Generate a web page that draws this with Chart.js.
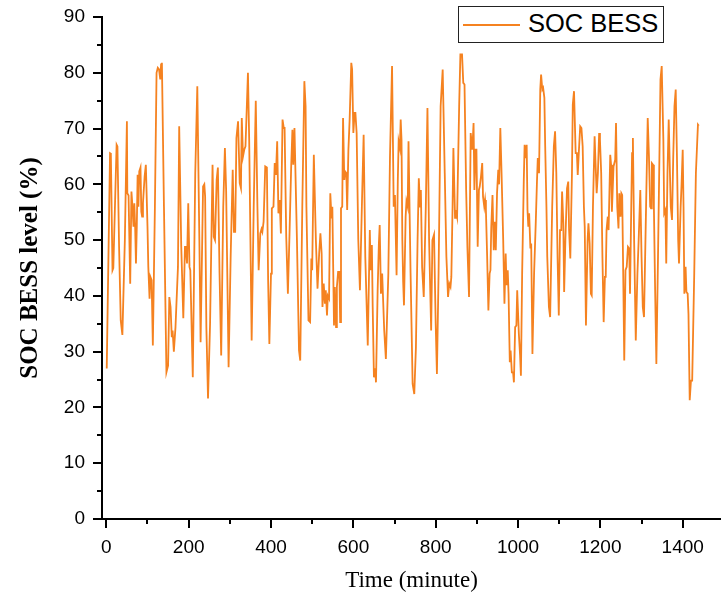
<!DOCTYPE html>
<html>
<head>
<meta charset="utf-8">
<script src="https://cdn.jsdelivr.net/npm/chart.js@4.4.0/dist/chart.umd.min.js"></script>
<style>
  body { margin: 0; background: #fff; }
  #wrap { position: relative; width: 721px; height: 602px; }
  #legend { position: absolute; left: 458px; top: 6px; width: 204px; height: 35px;
            border: 1.5px solid #222; background: #fff; }
  #legend .swatch { position: absolute; left: 4px; top: 17px; width: 57px; height: 2px; background: rgb(245,130,32); }
  #legend .label { position: absolute; left: 69px; top: 4px; font: 25.5px "Liberation Sans", Arial, sans-serif;
                   line-height: 25.5px; color: #000; white-space: nowrap; }
</style>
</head>
<body>
<div id="wrap">
  <canvas id="socChart" width="721" height="602"></canvas>
  <div id="legend"><div class="swatch"></div><div class="label">SOC BESS</div></div>
</div>
<script>
// time (minute) and SOC BESS level (%)
let minutes = [
  1, 9, 11, 15, 17, 23, 25, 27, 31, 35, 39, 45, 50, 51, 54, 58, 61, 63, 66, 68,
  70, 72, 74, 76, 78, 80, 83, 85, 87, 89, 93, 96, 100, 102, 105, 107, 110, 113, 118, 122,
  125, 128, 131, 133, 135, 140, 146, 150, 153, 156, 159, 161, 164, 168, 174, 177, 182, 187, 191, 193,
  196, 199, 202, 204, 210, 216, 221, 226, 229, 235, 238, 240, 243, 247, 252, 258, 261, 264, 268, 271,
  275, 279, 284, 288, 291, 297, 302, 307, 310, 313, 316, 320, 324, 327, 329, 332, 335, 338, 344, 347,
  350, 353, 358, 363, 367, 370, 374, 377, 379, 382, 386, 390, 393, 396, 400, 402, 406, 409, 412, 415,
  418, 421, 424, 428, 431, 433, 437, 441, 445, 449, 452, 454, 457, 463, 468, 471, 476, 481, 484, 486,
  491, 495, 498, 500, 504, 509, 513, 517, 520, 523, 525, 528, 531, 533, 536, 538, 541, 544, 547, 549,
  553, 555, 558, 560, 563, 566, 568, 570, 573, 575, 578, 580, 583, 585, 588, 591, 595, 597, 600, 603,
  605, 608, 612, 616, 621, 625, 629, 635, 640, 642, 645, 647, 650, 653, 655, 659, 662, 664, 667, 670,
  675, 679, 685, 689, 694, 698, 701, 705, 708, 710, 713, 715, 717, 719, 721, 723, 727, 729, 732, 734,
  739, 744, 748, 752, 756, 759, 762, 764, 767, 771, 776, 780, 784, 789, 792, 796, 800, 803, 807, 812,
  817, 822, 826, 830, 833, 836, 838, 841, 843, 847, 849, 852, 857, 860, 864, 867, 870, 874, 877, 881,
  885, 889, 892, 894, 897, 899, 902, 905, 907, 910, 913, 915, 918, 920, 922, 925, 928, 931, 933, 935,
  938, 941, 943, 946, 949, 952, 954, 957, 960, 964, 967, 970, 972, 975, 977, 980, 982, 985, 988, 990,
  993, 996, 998, 1002, 1005, 1007, 1010, 1014, 1016, 1018, 1021, 1023, 1025, 1027, 1030, 1032, 1035, 1039, 1043, 1046,
  1048, 1051, 1054, 1056, 1059, 1061, 1064, 1066, 1069, 1071, 1075, 1078, 1083, 1087, 1090, 1093, 1096, 1099, 1102, 1105,
  1107, 1110, 1112, 1115, 1119, 1122, 1124, 1127, 1131, 1133, 1136, 1140, 1143, 1145, 1148, 1151, 1154, 1157, 1160, 1162,
  1165, 1169, 1171, 1174, 1177, 1179, 1182, 1186, 1188, 1191, 1194, 1197, 1199, 1202, 1205, 1208, 1211, 1213, 1215, 1218,
  1220, 1224, 1226, 1228, 1232, 1236, 1238, 1241, 1244, 1246, 1249, 1251, 1253, 1256, 1258, 1261, 1264, 1267, 1270, 1272,
  1275, 1277, 1279, 1282, 1286, 1290, 1293, 1297, 1300, 1303, 1306, 1311, 1315, 1318, 1321, 1323, 1325, 1328, 1330, 1333,
  1336, 1340, 1344, 1346, 1349, 1353, 1355, 1358, 1360, 1363, 1366, 1369, 1371, 1374, 1377, 1380, 1383, 1386, 1389, 1391,
  1395, 1397, 1400, 1402, 1404, 1407, 1409, 1412, 1414, 1417, 1420, 1423, 1428, 1432, 1437, 1439
];
let socLevel = [
  27, 65.6, 65.5, 44.6, 45, 61.7, 67.1, 66.8, 48.8, 35.6, 33, 50, 71.3, 58.4, 58, 42.2, 58.7, 56.6, 52.4, 56.6,
  52.4, 45.8, 52.4, 61.7, 56, 62.3, 63, 55.1, 54.2, 56.6, 61.4, 63.5, 52.4, 45.2, 39.5, 43.4, 42.8, 31.1, 56, 80,
  80.9, 80.6, 78.8, 81.5, 81.8, 56, 26.3, 27.5, 39.8, 38, 32.6, 33.8, 30, 34.4, 45.2, 70.4, 48.8, 36, 48.8, 48.8,
  45.8, 56.6, 45.2, 44.6, 25.4, 62, 77.6, 50, 31.7, 59.6, 60, 57.8, 34.4, 21.6, 35, 63.5, 50.6, 50, 60.8, 63,
  44, 29.3, 56, 66.5, 59, 27.2, 47, 62.6, 51.5, 51.5, 68.3, 71.3, 60.2, 59.3, 71.9, 65, 66.2, 66.8, 80, 68,
  50, 32, 56, 75, 56, 44.6, 51.2, 52, 51.5, 53.3, 63.2, 63, 42.8, 31.4, 44, 55.7, 56, 63.8, 61.7, 67.7,
  54.8, 57.2, 51.2, 71.6, 70.1, 70.1, 50.6, 40.4, 51.2, 63.2, 69.8, 63.5, 70.1, 50, 30.2, 28.4, 56, 78.5, 74, 56,
  35.6, 35.3, 46.7, 44.6, 65.3, 50, 41.3, 47.6, 51.2, 47.6, 38, 42.2, 38.6, 41, 36.5, 40, 39.5, 58.4, 53.9, 56,
  34.7, 41.6, 34.4, 41.6, 44.3, 44.3, 35.3, 55.7, 56, 71.9, 60.8, 62.3, 62, 55.4, 66.2, 71.6, 81.8, 80.6, 69.2, 72.8,
  72.8, 69.2, 50, 41, 57, 68.9, 47, 31.1, 51.8, 44.6, 49.1, 38, 25.4, 27, 24.5, 41, 49.4, 52.7, 40.4, 44,
  33.8, 28.7, 44, 65, 81.2, 56, 58.1, 43.7, 60.8, 67.7, 66.5, 71.6, 68, 50, 42.5, 38.3, 54.2, 57, 56, 67.7,
  44, 24.2, 22.4, 30.8, 50, 61.1, 56, 59, 45.2, 39.8, 56, 73.7, 50, 33.8, 50, 51, 35, 26, 44, 74,
  80.6, 62, 47, 39.8, 42.2, 41.6, 43.4, 56, 66.5, 54, 55.4, 54.2, 74, 83.3, 83.3, 78.2, 77.9, 59, 48.8, 39.8,
  69.2, 66.2, 71, 59, 66.2, 66.2, 48.8, 59, 59.6, 61.4, 63.8, 57.8, 56, 57.2, 55.4, 47, 37.4, 44, 44.6, 52.4,
  58.1, 48.2, 53.3, 48.2, 58.4, 62.6, 60, 70.1, 62, 50, 38.6, 47.6, 41.9, 44.6, 40.4, 28.1, 30.2, 26.3, 26.3, 24.5,
  34.4, 34.7, 41, 33.2, 29.3, 25.7, 44, 60.8, 67.1, 64.7, 67.1, 55.4, 52.4, 54.8, 48.5, 49.4, 29.6, 44, 53, 60.5,
  64.7, 62, 77, 79.7, 77, 77.3, 75.5, 66.8, 56, 47, 38, 36.2, 56, 66.8, 69.5, 62, 47, 36.5, 51.8, 51.8,
  58.7, 53, 40.7, 50, 59.3, 60.5, 51.8, 46.7, 62, 74.3, 76.7, 65.6, 65.6, 61.7, 66.2, 70.4, 70.1, 66.8, 56, 52.4,
  34.7, 50, 53, 49.4, 40.4, 40.1, 56, 68.6, 64.4, 58.4, 62, 69.2, 68, 62, 47, 35.3, 43.4, 43.4, 51.8, 54.2,
  51.8, 65.3, 63.5, 55.1, 63.2, 64.4, 71, 56, 52.1, 58.4, 54.2, 58.4, 58.1, 41, 28.4, 44.6, 45.2, 48.8, 48.5, 40.4,
  56, 65.6, 68.3, 50, 32, 44, 50, 59, 47, 38, 36.2, 56, 71.9, 65, 56, 55.7, 63.8, 63.5, 56, 41,
  27.8, 47, 68, 78.8, 81.2, 68, 54.8, 55.4, 45.8, 62, 71.6, 62, 56, 53.6, 65, 74, 77, 65, 50, 45.8,
  56, 59.6, 66.2, 56, 40.4, 45.2, 40.7, 40.4, 36.8, 21.3, 24.8, 24.8, 44, 62, 70.7, 70.5
];
let xTicks = [0, 200, 400, 600, 800, 1000, 1200, 1400];
let yTicks = [0, 10, 20, 30, 40, 50, 60, 70, 80, 90];

Chart.defaults.color = "#000";
Chart.defaults.font.family = "'Liberation Sans', Arial, sans-serif";

// major ticks plus the minor ones half way between
function withMinor(major) {
  let out = [];
  major.forEach((v, i) => {
    out.push({value: v});
    if (i < major.length - 1) out.push({value: (v + major[i + 1]) / 2});
  });
  return out;
}

// outward tick marks, long on labelled ticks, short in between
const tickMarks = {
  id: "tickMarks",
  afterDraw(chart) {
    const ctx = chart.ctx;
    const x = chart.scales.x, y = chart.scales.y;
    ctx.save();
    ctx.strokeStyle = "#000";
    ctx.lineWidth = 2;
    ctx.beginPath();
    x.ticks.forEach(t => {
      const px = Math.round(x.getPixelForValue(t.value));
      const len = xTicks.includes(t.value) ? 9 : 5;
      ctx.moveTo(px, x.top);
      ctx.lineTo(px, x.top + len);
    });
    y.ticks.forEach(t => {
      const py = Math.round(y.getPixelForValue(t.value));
      const len = yTicks.includes(t.value) ? 9 : 5;
      ctx.moveTo(y.right, py);
      ctx.lineTo(y.right - len, py);
    });
    ctx.stroke();
    ctx.restore();
  }
};

let ctx = document.getElementById("socChart");
let points = minutes.map((m, i) => ({x: m, y: socLevel[i]}));

let socChart = new Chart(ctx.getContext("2d"), {
  type: "line",
  data: {
    datasets: [{
      label: "SOC BESS",
      data: points,
      borderColor: "rgb(245,130,32)",
      borderWidth: 1.8,
      pointRadius: 0,
      tension: 0,
      fill: false
    }]
  },
  options: {
    responsive: false,
    animation: false,
    layout: {padding: {left: 16, right: 0, top: 17, bottom: 7}},
    plugins: {legend: {display: false}, tooltip: {enabled: false}},
    scales: {
      x: {
        type: "linear",
        min: -10.5,
        max: 1493,
        afterBuildTicks: s => { s.ticks = withMinor(xTicks); },
        afterFit: s => { s.height = 76; s.paddingLeft = 0; s.paddingRight = 0; },
        border: {display: true, color: "#000", width: 2},
        grid: {display: true, drawOnChartArea: false, drawTicks: false},
        ticks: {
          autoSkip: false,
          maxRotation: 0,
          padding: 17,
          font: {size: 19},
          callback: v => xTicks.includes(v) ? String(v) : ""
        },
        title: {
          display: true,
          text: "Time (minute)",
          font: {family: "'Liberation Serif', 'Times New Roman', serif", size: 23},
          padding: 0
        }
      },
      y: {
        min: 0,
        max: 90,
        afterBuildTicks: s => { s.ticks = withMinor(yTicks); },
        afterFit: s => { s.width = 86; s.paddingTop = 0; s.paddingBottom = 0; },
        border: {display: true, color: "#000", width: 2},
        grid: {display: true, drawOnChartArea: false, drawTicks: false},
        ticks: {
          autoSkip: false,
          padding: 17,
          font: {size: 19},
          callback: v => yTicks.includes(v) ? String(v) : ""
        },
        title: {
          display: true,
          text: "SOC BESS level (%)",
          font: {family: "'Liberation Serif', 'Times New Roman', serif", size: 25, weight: "bold"},
          padding: 0
        }
      }
    }
  },
  plugins: [tickMarks]
});
</script>
</body>
</html>
